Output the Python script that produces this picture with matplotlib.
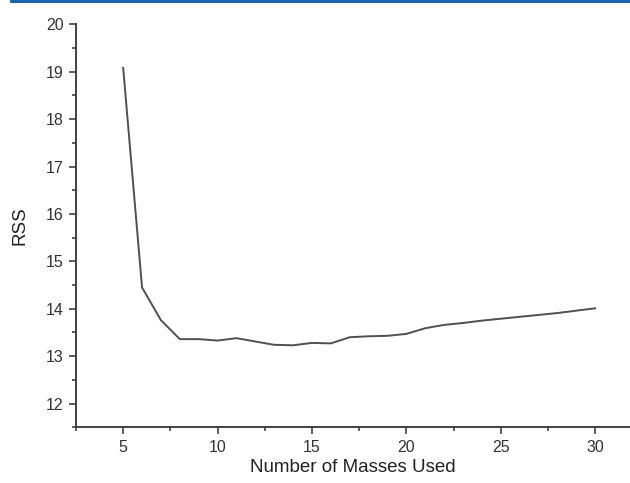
import matplotlib
matplotlib.use('Agg')
import matplotlib.pyplot as plt
from matplotlib.ticker import MultipleLocator

# data
masses = [5, 6, 7, 8, 9, 10, 11, 12, 13, 14, 15, 16, 17, 18, 19, 20,
          21, 22, 23, 24, 25, 26, 27, 28, 29, 30]
rss = [19.08, 14.45, 13.76, 13.36, 13.36, 13.33, 13.38, 13.31, 13.24, 13.23,
       13.28, 13.27, 13.40, 13.42, 13.43, 13.47, 13.59, 13.66, 13.70, 13.75,
       13.79, 13.83, 13.87, 13.91, 13.96, 14.01]

plt.rcParams['font.family'] = ['Liberation Sans', 'DejaVu Sans']

fig = plt.figure(figsize=(6.3, 4.83), dpi=100)
fig.patch.set_facecolor('white')

# blue rule across the top
fig.add_artist(plt.Line2D([0.017, 1.0], [0.998, 0.998], color='#0a5aa8',
                          linewidth=2, transform=fig.transFigure))

ax = fig.add_axes([0.1206, 0.1153, 0.8794, 0.8344])
ax.plot(masses, rss, color='#505050', linewidth=1.4)

ax.set_xlim(2.5, 31.85)
ax.set_ylim(11.5, 20)
ax.xaxis.set_major_locator(MultipleLocator(5))
ax.xaxis.set_minor_locator(MultipleLocator(2.5))
ax.yaxis.set_major_locator(MultipleLocator(1))
ax.yaxis.set_minor_locator(MultipleLocator(0.5))

for side in ['top', 'right']:
    ax.spines[side].set_visible(False)
for side in ['left', 'bottom']:
    ax.spines[side].set_color('#333333')
    ax.spines[side].set_linewidth(1.3)

ax.tick_params(which='major', direction='out', length=5, width=1.1,
               color='#333333', labelsize=11.5, labelcolor='#333333', pad=4)
ax.tick_params(which='minor', direction='out', length=3, width=1.1,
               color='#333333')

ax.set_xlabel('Number of Masses Used', fontsize=13.5, color='#222222', labelpad=3)
ax.set_ylabel('RSS', fontsize=13.5, color='#222222', labelpad=12)

plt.savefig('out.png', dpi=100)
